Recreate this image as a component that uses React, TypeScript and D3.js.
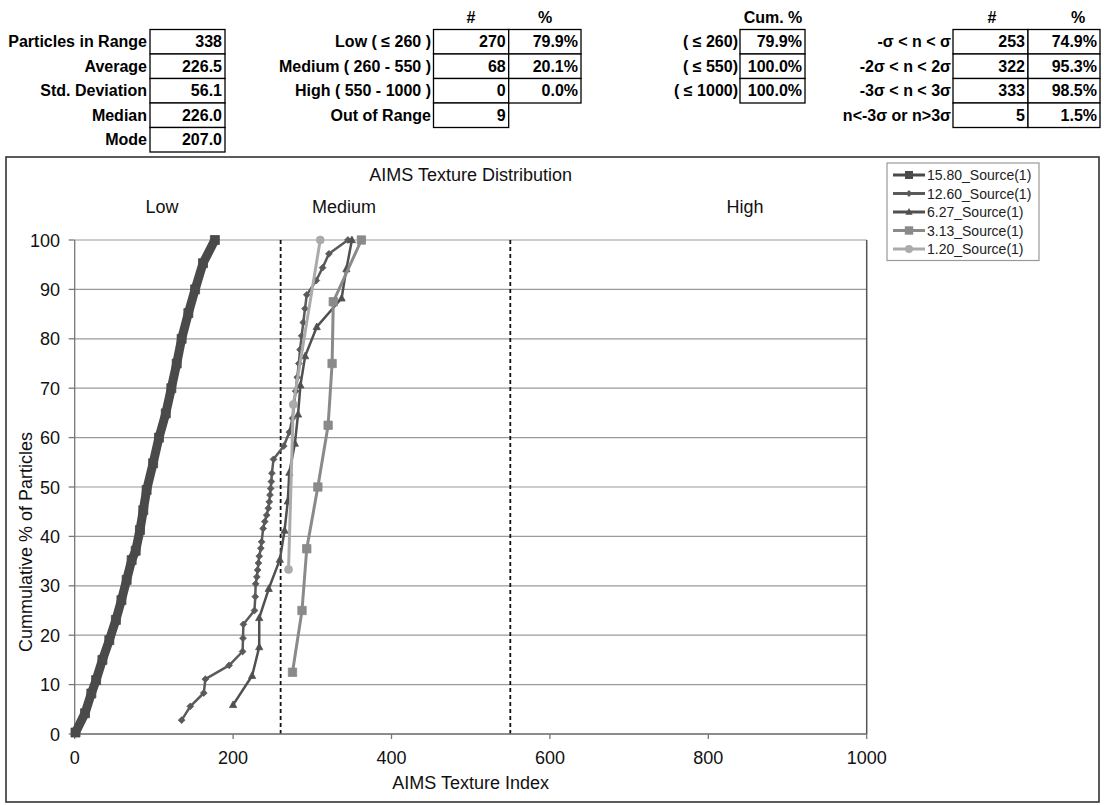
import React from "react";
import * as d3 from "d3";

// ---------- data ----------
const statLabels = ["Particles in Range", "Average", "Std. Deviation", "Median", "Mode"];
const statValues = ["338", "226.5", "56.1", "226.0", "207.0"];

const rangeLabels = ["Low ( \u2264 260 )", "Medium ( 260 - 550 )", "High ( 550 - 1000 )", "Out of Range"];
const rangeCounts = ["270", "68", "0", "9"];
const rangePcts = ["79.9%", "20.1%", "0.0%", ""];

const cumLabels = ["( \u2264 260)", "( \u2264 550)", "( \u2264 1000)"];
const cumPcts = ["79.9%", "100.0%", "100.0%"];

const sigmaLabels = ["-\u03c3 < n < \u03c3", "-2\u03c3 < n < 2\u03c3", "-3\u03c3 < n < 3\u03c3", "n<-3\u03c3 or n>3\u03c3"];
const sigmaCounts = ["253", "322", "333", "5"];
const sigmaPcts = ["74.9%", "95.3%", "98.5%", "1.5%"];

const xTicks = [0, 200, 400, 600, 800, 1000];
const yTicks = [0, 10, 20, 30, 40, 50, 60, 70, 80, 90, 100];
const rangeBounds = [260, 550];
const zoneLabels = ["Low", "Medium", "High"];

// [AIMS Texture Index, cumulative %]
const s1580: [number, number][] = [
  [1, 0.3], [13, 4.2], [21, 8.2], [27, 10.9], [35, 15], [43.7, 19], [52, 23.1], [59, 27.1],
  [65.6, 31.2], [71.9, 35.2], [77, 37.1], [82.4, 41.3], [86.6, 45.3], [90.8, 49.4], [99, 54.8],
  [106.4, 60], [115, 64.9], [122, 70], [128.8, 75], [135, 80], [143.5, 85.2], [152, 90],
  [162, 95.3], [177, 100],
];
const s1260: [number, number][] = [
  [135, 2.8], [146, 5.6], [163, 8.3], [165, 11.1], [195, 13.9], [212, 16.7], [212.5, 19.4],
  [213, 22.2], [227, 25.0], [228, 27.8], [228.5, 30.4], [230, 31.8], [231, 33.2], [232, 34.6],
  [233, 36.0], [235, 37.6], [236, 38.9], [238, 41.6], [240, 43.0], [242.4, 44.3], [244.5, 45.7],
  [245.7, 47.0], [246.6, 48.4], [247.4, 49.7], [248.3, 51.1], [249, 52.8], [251, 55.6],
  [264, 58.3], [271, 61.1], [275, 63.9], [277, 66.7], [279, 69.4], [281, 72.2], [283, 75.0],
  [284.5, 77.8], [286.6, 80.6], [288.6, 83.3], [290.8, 86.1], [293, 88.9], [305, 91.8],
  [313, 94.4], [321, 97.2], [345, 100],
];
const s627: [number, number][] = [
  [200, 5.9], [224, 11.8], [233, 17.6], [233, 23.5], [245, 29.4], [259, 35.3], [265, 41.2],
  [269, 47.1], [271, 52.9], [278, 58.8], [282, 64.7], [285, 70.6], [291, 76.5], [305.6, 82.4],
  [337, 88.2], [343, 94.1], [350, 100],
];
const s313: [number, number][] = [
  [275, 12.5], [287, 25], [293, 37.5], [307, 50], [320, 62.5], [325, 75], [326.5, 87.5], [362, 100],
];
const s120: [number, number][] = [
  [270, 33.3], [276, 66.7], [310, 100],
];

const seriesNames = ["15.80_Source(1)", "12.60_Source(1)", "6.27_Source(1)", "3.13_Source(1)", "1.20_Source(1)"];
const seriesData = [s1580, s1260, s627, s313, s120];
const seriesColors = ["#4a4a4a", "#5a5a5a", "#505050", "#8a8a8a", "#ababab"];
const seriesShapes = ["square", "diamond", "triangle", "square", "circle"];

// ---------- layout ----------
const W = 1104;
const H = 805;
const FONT = "'Liberation Sans', Arial, Helvetica, sans-serif";

const x = d3.scaleLinear().domain([0, 1000]).range([74.7, 866.7]);
const y = d3.scaleLinear().domain([0, 100]).range([734, 240]);

const lineGen = d3
  .line<[number, number]>()
  .x((d) => x(d[0]))
  .y((d) => y(d[1]));

function markerPath(shape: string, s: number): string {
  if (shape === "square") return `M${-s},${-s}H${s}V${s}H${-s}Z`;
  if (shape === "diamond") return `M0,${-s}L${s},0L0,${s}L${-s},0Z`;
  if (shape === "triangle") return `M0,${-s * 1.1}L${s},${s * 0.75}L${-s},${s * 0.75}Z`;
  return d3.symbol().type(d3.symbolCircle).size(Math.PI * s * s)() || "";
}

const lineWidths = [9, 2.5, 2.5, 3, 3];
const markerSizes = [4.5, 3.4, 3.6, 4.2, 4];

const ROW_TOP = 29.5;
const ROW_H = 24.5;

function Cell({ x0, x1, row, text }: { x0: number; x1: number; row: number; text: string }) {
  const yy = ROW_TOP + row * ROW_H;
  return (
    <g>
      <rect x={x0} y={yy} width={x1 - x0} height={ROW_H} fill="white" stroke="#000" strokeWidth={1.3} />
      <text x={x1 - 3} y={yy + ROW_H / 2 + 5.5} textAnchor="end">
        {text}
      </text>
    </g>
  );
}

function Label({ xr, row, text }: { xr: number; row: number; text: string }) {
  const yy = ROW_TOP + row * ROW_H;
  return (
    <text x={xr} y={yy + ROW_H / 2 + 5.5} textAnchor="end">
      {text}
    </text>
  );
}

export default function App() {
  const legendX = 887;
  const legendY = 163;
  const legendRowH = 18.5;

  return (
    <div style={{ position: "absolute", left: 0, top: 0, width: W, height: H, background: "white" }}>
      <svg width={W} height={H} style={{ display: "block", fontFamily: FONT }}>
        <rect x={0} y={0} width={W} height={H} fill="white" />

        {/* ---------- tables ---------- */}
        <g fontSize={16} fontWeight="bold" fill="#000">
          {statLabels.map((l, i) => (
            <Label key={"sl" + i} xr={147} row={i} text={l} />
          ))}
          {statValues.map((v, i) => (
            <Cell key={"sv" + i} x0={150} x1={225} row={i} text={v} />
          ))}

          <text x={471} y={23} textAnchor="middle">#</text>
          <text x={545} y={23} textAnchor="middle">%</text>
          {rangeLabels.map((l, i) => (
            <Label key={"rl" + i} xr={431} row={i} text={l} />
          ))}
          {rangeCounts.map((v, i) => (
            <Cell key={"rc" + i} x0={433.5} x1={508.7} row={i} text={v} />
          ))}
          {rangePcts.map((v, i) =>
            v ? <Cell key={"rp" + i} x0={508.7} x1={581} row={i} text={v} /> : null
          )}

          <text x={773} y={23} textAnchor="middle">Cum. %</text>
          {cumLabels.map((l, i) => (
            <Label key={"cl" + i} xr={738} row={i} text={l} />
          ))}
          {cumPcts.map((v, i) => (
            <Cell key={"cp" + i} x0={740} x1={805} row={i} text={v} />
          ))}

          <text x={992} y={23} textAnchor="middle">#</text>
          <text x={1078} y={23} textAnchor="middle">%</text>
          {sigmaLabels.map((l, i) => (
            <Label key={"gl" + i} xr={951} row={i} text={l} />
          ))}
          {sigmaCounts.map((v, i) => (
            <Cell key={"gc" + i} x0={953} x1={1028} row={i} text={v} />
          ))}
          {sigmaPcts.map((v, i) => (
            <Cell key={"gp" + i} x0={1028} x1={1100} row={i} text={v} />
          ))}
        </g>

        {/* ---------- chart frame ---------- */}
        <rect x={6} y={157} width={1093} height={645} fill="white" stroke="#333" strokeWidth={1.6} />

        {/* gridlines */}
        <g>
          {yTicks.map((t) => (
            <line key={"g" + t} x1={x(0)} x2={x(1000)} y1={y(t)} y2={y(t)} stroke="#9a9a9a" strokeWidth={1.2} />
          ))}
          <line x1={x(1000)} x2={x(1000)} y1={y(100)} y2={y(0)} stroke="#555" strokeWidth={1.5} />
        </g>

        {/* range dashed lines */}
        {rangeBounds.map((b) => (
          <line key={"b" + b} x1={x(b)} x2={x(b)} y1={y(100)} y2={y(0)} stroke="#111" strokeWidth={1.8} strokeDasharray="4,3" />
        ))}

        {/* axes */}
        <g stroke="#777" strokeWidth={1.3}>
          <line x1={x(0)} x2={x(0)} y1={y(0)} y2={y(100)} />
          <line x1={x(0)} x2={x(1000)} y1={y(0)} y2={y(0)} />
          {yTicks.map((t) => (
            <line key={"yt" + t} x1={x(0) - 6} x2={x(0)} y1={y(t)} y2={y(t)} />
          ))}
          {xTicks.map((t) => (
            <line key={"xt" + t} x1={x(t)} x2={x(t)} y1={y(0)} y2={y(0) + 5} />
          ))}
        </g>
        <g fontSize={18} fill="#111">
          {yTicks.map((t) => (
            <text key={"yl" + t} x={60} y={y(t) + 6.5} textAnchor="end">
              {t}
            </text>
          ))}
          {xTicks.map((t) => (
            <text key={"xl" + t} x={x(t)} y={764} textAnchor="middle">
              {t}
            </text>
          ))}
          <text x={(x(0) + x(1000)) / 2} y={789} textAnchor="middle">AIMS Texture Index</text>
          <text transform="translate(32,542) rotate(-90)" textAnchor="middle">Cummulative % of Particles</text>
          <text x={(x(0) + x(1000)) / 2} y={181} textAnchor="middle">AIMS Texture Distribution</text>
          <text x={162} y={213} textAnchor="middle">{zoneLabels[0]}</text>
          <text x={344} y={213} textAnchor="middle">{zoneLabels[1]}</text>
          <text x={745} y={213} textAnchor="middle">{zoneLabels[2]}</text>
        </g>

        {/* series */}
        {seriesData.map((data, si) => (
          <g key={"s" + si}>
            <path
              d={lineGen(data) || ""}
              fill="none"
              stroke={seriesColors[si]}
              strokeWidth={lineWidths[si]}
              strokeLinejoin="round"
            />
            {data.map((d, i) => (
              <path
                key={i}
                d={markerPath(seriesShapes[si], markerSizes[si])}
                transform={`translate(${x(d[0])},${y(d[1])})`}
                fill={seriesColors[si]}
                stroke={seriesColors[si]}
                strokeWidth={0.8}
              />
            ))}
          </g>
        ))}

        {/* legend */}
        <rect x={legendX} y={legendY} width={152} height={legendRowH * 5 + 5} fill="white" stroke="#999" strokeWidth={1.2} />
        {seriesNames.map((n, i) => {
          const yy = legendY + 12 + i * legendRowH;
          return (
            <g key={"lg" + i}>
              <line x1={legendX + 6} x2={legendX + 38} y1={yy} y2={yy} stroke={seriesColors[i]} strokeWidth={3} />
              <path
                d={markerPath(seriesShapes[i], i === 0 ? 4 : markerSizes[i])}
                transform={`translate(${legendX + 22},${yy})`}
                fill={seriesColors[i]}
              />
              <text x={legendX + 40} y={yy + 5} fontSize={14} fill="#222">
                {n}
              </text>
            </g>
          );
        })}
      </svg>
    </div>
  );
}
